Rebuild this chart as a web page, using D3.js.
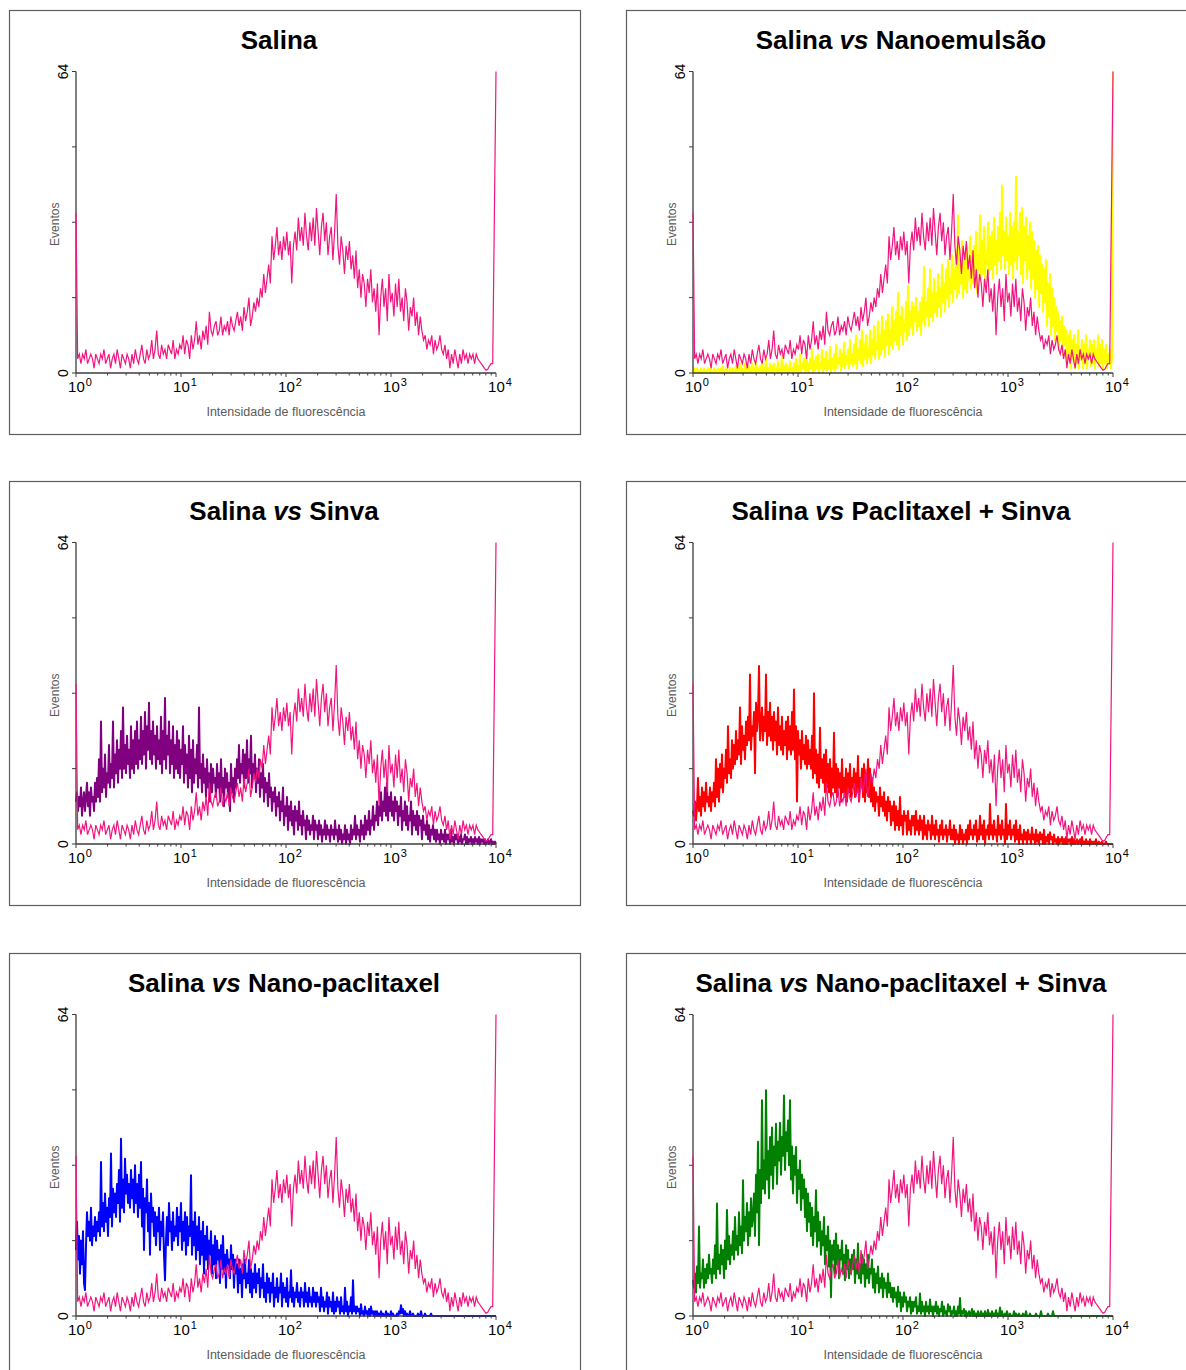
<!DOCTYPE html>
<html>
<head>
<meta charset="utf-8">
<script src="https://cdn.jsdelivr.net/npm/d3@7/dist/d3.min.js"></script>
<style>
  html, body { margin: 0; padding: 0; background: #fff; }
</style>
</head>
<body>
<script>
// Flow cytometry histograms: events per channel over a 4-decade log fluorescence axis.

// Saline control (256 channels), shared by every panel
const salina = [
  34, 3, 4, 2, 4, 3, 5, 2, 3, 4, 3, 1, 4, 3, 2, 4,
  3, 5, 2, 3, 4, 1, 3, 4, 2, 5, 3, 1, 4, 3, 2, 4,
  3, 1, 4, 2, 5, 3, 2, 4, 6, 3, 2, 5, 3, 4, 7, 3,
  5, 9, 4, 3, 6, 4, 5, 3, 6, 5, 4, 7, 3, 5, 4, 6,
  5, 8, 4, 7, 6, 3, 8, 5, 7, 11, 6, 8, 5, 9, 7, 10,
  6, 13, 9, 8, 10, 11, 8, 9, 12, 8, 10, 9, 11, 8, 12, 10,
  9, 11, 13, 10, 12, 9, 14, 11, 13, 16, 10, 12, 15, 13, 16, 14,
  18, 16, 21, 17, 20, 23, 19, 29, 24, 27, 31, 25, 28, 24, 29, 26,
  30, 25, 28, 19, 27, 30, 26, 33, 28, 31, 27, 34, 29, 26, 32, 28,
  33, 27, 35, 30, 25, 31, 34, 28, 32, 25, 29, 31, 24, 30, 38, 27,
  23, 29, 26, 21, 27, 24, 28, 22, 25, 20, 26, 18, 22, 16, 21, 19,
  14, 20, 17, 22, 15, 18, 13, 19, 8, 16, 20, 14, 18, 11, 21, 15,
  17, 12, 19, 14, 20, 13, 16, 11, 18, 15, 9, 14, 12, 16, 10, 13,
  8, 12, 9, 7, 8, 5, 7, 6, 8, 4, 7, 5, 6, 8, 5, 4,
  6, 3, 5, 1, 4, 2, 5, 3, 1, 4, 2, 5, 3, 4, 2, 4,
  3, 4, 2, 4, 3, 2.5, 2, 1.5, 1, 0.6, 0.8, 1.5, 2, 2, 33, 64
];

// Treated samples (421 channels each)
const nanoemulsao = [
  0,1,0,0,1,0,0.5,0,1,0,0,1,0,0,0.5,1,0,0,1,0,
  0,1,0,0.5,0,1,0,0,1,0,1.5,0,0,1,0,0.5,0,1,0,0,
  1,0,0,1.5,0,1,0,2,0,1,0,0,2,0,1,0,1.5,0,0,2,
  0,1,0,2.5,0,1,0,1.5,0,2,0,1,0,3,0,1,0,2,0,1.5,
  0,2,0.5,1,0,2.5,0,1,0,3.5,0,1.5,0,2,0,1,0,2.5,0.5,1,
  0,2,0,3,0.5,1.5,0,4,0,2,1,3,0,4.5,0.5,2,0,3,1,5,
  0,2.5,0.5,3.5,1,4,0,2,1,5,0,3,1,4.5,0.5,2.5,1,5.5,0,3,
  1,4,0.5,6,1,3,2,5,0.5,4,1.5,6.5,1,3.5,2,5,1,7,2,4,
  1.5,6,2,8,1,5,3,7,2,9,1.5,6,3,8,2,5,3.5,9,2,7,
  4,10,3,6,5,11,3,8,4,12,5,9,3.5,11,6,12.5,4,9,6,14,
  5,11,7,13,6,17,5,12,8,14,6,11,9,15,7,18.5,8,13,10,15,
  8,14,11,16,9,13,10,15,8,16,11,22.5,10,15,12,18,10,22,12,17,
  11,20,13,17,12,21,14,18,12,23,15,19,13,22,16,24,14,20,17,25,
  15,22,18,26,16,33.5,17,24,19,28,16,25,18,27,17,23,20,29,18,26,
  19,27,21,30,17,25,22,33.5,20,28,21,31,19,26,23,32,21,29,22,30,
  20,33,23,28,21,31,24,34,22,39.8,25,30,22,33,24,29,21,34,23,31,
  20,32,24,41.7,22,30,25,34,21,35,19,31,24,33,20,29,22,32,18,30,
  20,28,16,26,18,27,14,25,17,23,13,22,15,24,10,19,12,21,8,18,
  10,16,7,14,9,13,5,11,7,12,4,10,6,9,2,8,4,9,1,7,
  3,8,1,6,2,9,1,5,3,7,1,6,2,8,1,5,3,7,1.5,6,
  2,7,1,5,3,8,1.5,6,2,7,1,5,2,6,1,4,2,5,1,3,
  64
];

const sinva = [
  9,11,7,10,8,12,6,9,11,7,10,13,8,11,6,12,9,10,7,13,
  9,14,10,18,9,26,11,16,12,19,10,15,13,21,12,17,14,26,12,19,
  15,22,13,20,16,24,14,29,16,21,15,23,17,20,14,25,16,22,15,24,
  17,26,16,22,18,27,17,24,19,28,16,25,20,30,18,24,17,26,19,23,
  16,25,18,22,17,27,15,24,18,31,16,23,19,26,15,22,17,25,14,21,
  16,24,15,22,14,20,17,25,13,21,15,19,12,23,14,20,11,22,13,18,
  15,21,12,29,14,17,11,19,13,16,10,18,12,15,9,17,11,16,13,14,
  10,17,12,15,9,18,11,14,8,16,12,15,10,13,7,17,11,14,9,16,
  12,18,14,21,13,17,15,20,12,19,14,22,13,18,15,23,12,17,14,19,
  11,16,13,18,10,15,12,17,9,14,11,13,8,15,10,12,7,11,9,12,
  6,10,8,11,5,9,7,12,4,8,6,10,3,8,5,9,4,7,2,8,
  5,7,3,9,4,6,2,7,4,5,1,6,3,5,2,4,3,6,1,5,
  3,4,1,5,2,4,0.5,3,2,5,1,4,2,3,0.5,4,2,3,1,5,
  2,3,0.5,4,1,3,0,2,1,4,0,3,1,2,0,4,1,3,2,6,
  1,4,2,3,0.5,5,2,4,1,6,2,5,3,7,2,5,4,8,3,6,
  5,9,4,8,6,11,5,9,7,12,6,13,5,10,7,11,6,9,5,10,
  7,9,4,8,6,10,3,7,5,9,4,8,3,6,5,9,2,7,4,6,
  3,7,2,6,4,5,1,6,3,4,2,5,1,4,0.5,3,2,4,1,3,
  0.5,3,1,2,0,3,1,2,0.5,3,0,2,1,2,0,3,0.5,1.5,0,2,
  1,2,0,1.5,0.5,2,0,1,1,2,0,1.5,0,1,0.5,1.5,0,1,0,1.5,
  0.5,1,0,1.5,0,1,0.5,1,0,1,0,0.5,1,0,0.5,1,0,0.5,0,0.5,
  0
];

const paclitaxelSinva = [
  7,6,9,5,8,14,7,10,6,12,8,11,7,13,9,10,8,12,7,11,
  9,13,8,18,10,16,9,17,12,19,11,16,14,20,13,25,15,18,14,22,
  16,21,17,24,18,22,19,29,17,25,20,23,18,26,21,27,22,36,20,25,
  23,28,15,30,24,27,37.8,22,25,29,22,27,24,36,21,28,23,30,22,27,
  20,28,22,26,19,29,21,25,20,27,19,24,21,26,18,27,20,25,19,28,
  20,32.8,18,25,9,24,19,22,16,24,18,21,17,23,16,22,17,20,16,23,
  14,32,15,20,13,19,12,24.7,14,18,13,19,11,20,12,17,11,18,10,16,
  12,23.6,11,17,10,16,12,15,9,18,11,14,10,16,9,15,11,17,10,14,
  12,16,10,15,11,18.7,9,14,12,16,10,17,9,15,11,18,10,16,9,14,
  8,12,7,11,9,10,6,12,8,10,7,11,6,9,5,10,7,9,4,8,
  5,9,3,8,4,7,3,10,4,6,2,7,5,6,2,7,3,5,2,6,
  4,6,2,7,3,5,2,6,3,5,1,6,2,4,1,5,3,4,1,6,
  2,4,1,5,2,3,0.5,4,2,5,1,3,2,4,0.5,3,2,5,1,3,
  1,4,0,3,1,2,0,4,1,3,0,2,1,3,0,4,1,5,2,3,
  1,4,2,5,0.5,3,1,6,2,4,1,5,0,3,2,4,1,8.5,2,4,
  1,5,2,3,0.5,6,2,4,1,5,2,3,0,8.5,1,4,2,5,1,3,
  2,4,0.5,5,1,3,0,4,1,2,0,3,1,2.5,0,3,1,2,0,3.5,
  1,2,0,3,0.5,2,0,2.5,1,2,0,3,0,1.5,0.5,2,0,2.5,1,1.5,
  0,2,0.5,1,0,1.5,0,1,0.5,1.5,0,1,0,1.5,0,1,0.5,1,0,1.5,
  0,1,0,0.5,1,0,0.5,1,0,1.5,0,0.5,0,1,0,0.5,0,1,0,0.5,
  0,0.5,0,1,0,0,0.5,0,0,0.5,0,0,0,0.5,0,0,0,0,0,0,
  0
];

const nanoPaclitaxel = [
  14,20,12,17,9,16,11,18,7,5.5,15,22,17,20,16,23,15,19,17,21,
  16,20,18,22,17,32.7,19,24,18,26,20,23,17,25,21,34.5,19,27,22,26,
  21,28,24,31,20,37.6,23,29,22,33.4,26,30,24,28,23,31,25,29,22,32,
  24,28,21,30,23,32.7,19,27,14,25,22,29,18,24,13,26,20,23,17,22,
  15,21,18,23,14,20,17,22,13,7.6,16,21,15,24,18,20,14,22,16,19,
  17,23,15,21,18,24,14,20,16,22,13,21,15,19,17,29.9,13,20,15,22,
  12,19,14,21,11,18,13,20,9,17,12,19,10,16,13,18,9,15,11,17,
  8,16,12,14,7,15,10,17,9,13,6,14,11,12,8,15,10,13,6,12,
  9,11,5,12,7,10,4,11,8,12,6,9,7,11.9,5,10,4,9,6,11,
  5,9,7,10,4,8,6,11,4,7,3,9,5,8,3,7,5,9,2,6,
  4,8,3,6,5,9,2,7,4,6,3,8,2,5,4,9.7,3,6,2,5,
  4,7,3,5,2,6,4,5,2,7,3,5,2,6,3,4,2,6,3,5,
  2,5,3,4,1,6,2,4,1,3,2,5,0.5,4,2,3,1,5,0.5,3,
  1,4,2,3,0.5,4,1,2,0.5,6,1,3,0,2,1,4,0.5,7.6,1,2,
  0.5,2,1,1.5,0,2.5,0.5,1,0,2,0.5,1,0,1.5,0,2,0.5,1,0,1,
  0,1,0,0.5,0,1,0,0.5,0,0,1,0,0.5,0,0,1,0,0.5,0,0,
  0,0.5,0,1,0.5,2.3,0.6,1.5,0,1,0,0.5,0,0,1,0,0,0.5,0,0,
  0,0,0.5,0,0,1,0,0,0,0.5,0,0,0,0,0,0.5,0,0,0,0,
  0,0,0,0,0,0,0,0,0,0,0,0,0,0,0,0,0,0,0,0,
  0,0,0,0,0,0,0,0,0,0,0,0,0,0,0,0,0,0,0,0,
  0,0,0,0,0,0,0,0,0,0,0,0,0,0,0,0,0,0,0,0,
  0
];

const nanoPaclitaxelSinva = [
  7.6,6,9,5,10.5,7,19,6,9,8,12,6,10,7,11,8,13,9,10,7,
  12,9,15,8,23.9,10,13,9,15,11,14,8,16,10,22.5,12,17,11,15,13,
  18,12,21,14,17,13,22,15,19,13.3,28.8,16,21,18,24,15,22,17,25,19,
  21,26,17,30,22,37,15,31,24,45.8,27,33,26,47.9,29,35,25,38,30,40,
  27,36,32,40.8,28,37,33,41,30,38,34,46.8,31,39,35,41.5,32,45.8,29,36,
  26,34,30,35.9,24,31,27,33,22.5,30,25,29,21,27,18,26,20,24,17,23,
  15,21,18,26.7,14.7,22,16,20,13,18,15,21,11,17,14,19,10.5,16,4,15,
  12,16,9,17.5,11,15,8,14,12,16,9,13,7.6,15,10,14,8,12,9,13,
  10,14,7,12,9,15.4,8,11,7,13,9,12,6.2,11,8,13,7,10,9,12,
  6,10,5,9,7,10.5,5,8,6,9,4,8,6,7,4,9,5,7,4,6,
  3,6,4,5,2,6.2,3,5,1,4,2,5,3,4,1,3,2,4,0.5,3,
  1,3,2,4,0.5,2,1,4.8,0.5,3,1,2,0,3,1,2,0.5,3.5,1,2,
  0,2,1,3,0.5,2,0,1.5,1,3,0,2,0.5,1,0,2.5,1,2,0,1,
  0.5,2,0,1,0,2,0.5,3.8,0,1,0.5,1.5,0,1,0,0.5,1,0,0.5,1.5,
  0,1,0,0.5,0,1,0,0,1,0,0.5,0,1,0,0,1.3,0,0.5,0,1,
  0,0.5,0,1.2,0,0.5,0,1.8,0,1,0,0,0.5,0,1,0,0,0.5,0,0,
  0,1,0,0.5,0,0,0.5,0,0,0,0.5,0,0,1,0,0,0,0.5,0,0,
  0,0,0,0.5,0,0,0,0,1,0,0,0,0,0,0,0.5,0,0,0,0,
  1,0,0,0,0,0,0,0,0,0,0,0,0,0,0,0,0,0,0,0,
  0,0,0,0,0,0,0,0,0,0,0,0,0,0,0,0,0,0,0,0,
  0,0,0,0,0,0,0,0,0,0,0,0,0,0,0,0,0,0,0,0,
  0
];

// Panel titles, in reading order, and the treated series / colour of each
const titles = [
  "Salina",
  "Salina vs Nanoemulsão",
  "Salina vs Sinva",
  "Salina vs Paclitaxel + Sinva",
  "Salina vs Nano-paclitaxel",
  "Salina vs Nano-paclitaxel + Sinva"
];
const treated = [null, nanoemulsao, sinva, paclitaxelSinva, nanoPaclitaxel, nanoPaclitaxelSinva];
const treatedColors = [null, "#ffff00", "#800080", "#ff0000", "#0000ff", "#008000"];
const salinaColor = "#f2147f";

// Axis ticks and labels
const decades = [1, 10, 100, 1000, 10000];
const decadeExponents = ["0", "1", "2", "3", "4"];
const yTicks = [0, 16, 32, 48, 64];
const yLabelled = [0, 64];
const xTitle = "Intensidade de fluorescência";
const yTitle = "Eventos";

// ---- layout ----
const W = 1186, H = 1370;
const FONT = "'Liberation Sans', Arial, Helvetica, sans-serif";
const panelW = 571, panelH = 424;
const colX = [9, 626];
const rowY = [10, 481, 953];
const plotLeft = 67, plotTop = 61.5, plotW = 420, plotH = 301.5;

const svg = d3.select("body").append("svg")
  .attr("width", W).attr("height", H)
  .style("display", "block")
  .style("font-family", FONT);

svg.append("rect").attr("width", W).attr("height", H).attr("fill", "#fff");

const x = d3.scaleLog().domain([1, 1e4]).range([0, plotW]);
const y = d3.scaleLinear().domain([0, 64]).range([plotH, 0]);

// channel index -> fluorescence intensity (channels evenly spread over 4 decades)
const intensity = (i, n) => Math.pow(10, 4 * i / (n - 1));

function histLine(values) {
  const n = values.length;
  return d3.line()
    .x((d, i) => x(intensity(i, n)))
    .y(d => y(Math.min(d, 64)))(values);
}

titles.forEach((title, k) => {
  const col = k % 2, row = Math.floor(k / 2);
  const g = svg.append("g").attr("transform", `translate(${colX[col]},${rowY[row]})`);

  // frame
  g.append("rect")
    .attr("x", 0.5).attr("y", 0.5)
    .attr("width", panelW).attr("height", panelH)
    .attr("fill", "none").attr("stroke", "#5e5e5e").attr("stroke-width", 1.2);

  // title, with the "vs" set in italic
  const t = g.append("text")
    .attr("x", k === 0 ? 270 : 275).attr("y", 39)
    .attr("text-anchor", "middle")
    .attr("font-size", 26).attr("font-weight", "bold").attr("fill", "#000");
  const parts = title.split(" vs ");
  t.append("tspan").text(parts[0]);
  if (parts.length > 1) {
    t.append("tspan").attr("font-style", "italic").text(" vs ");
    t.append("tspan").text(parts[1]);
  }

  const p = g.append("g").attr("transform", `translate(${plotLeft},${plotTop})`);

  // treated sample histogram, under the axes
  if (treated[k]) {
    p.append("path")
      .attr("d", histLine(treated[k]))
      .attr("fill", "none")
      .attr("stroke", treatedColors[k])
      .attr("stroke-width", 2)
      .attr("stroke-linejoin", "round");
  }

  // y axis
  const axisColor = "#3c3c3c";
  p.append("line")
    .attr("x1", 0).attr("x2", 0).attr("y1", y(64)).attr("y2", y(0))
    .attr("stroke", axisColor).attr("stroke-width", 1.3);
  p.selectAll(".yt").data(yTicks).enter().append("line")
    .attr("x1", -4).attr("x2", 0)
    .attr("y1", d => y(d)).attr("y2", d => y(d))
    .attr("stroke", axisColor).attr("stroke-width", 1);
  p.selectAll(".yl").data(yLabelled).enter().append("text")
    .attr("transform", d => `translate(-8,${y(d)}) rotate(-90)`)
    .attr("text-anchor", "middle")
    .attr("font-size", 14).attr("fill", "#000")
    .text(d => d);
  p.append("text")
    .attr("transform", `translate(-17,${plotH / 2 + 2}) rotate(-90)`)
    .attr("text-anchor", "middle")
    .attr("font-size", 12).attr("fill", "#5a5a5a")
    .text(yTitle);

  // x axis
  p.append("line")
    .attr("x1", 0).attr("x2", plotW).attr("y1", plotH).attr("y2", plotH)
    .attr("stroke", axisColor).attr("stroke-width", 1.3);
  const minor = [];
  decades.slice(0, -1).forEach(d => { for (let m = 2; m <= 9; m++) minor.push(d * m); });
  p.selectAll(".xm").data(minor).enter().append("line")
    .attr("x1", d => x(d)).attr("x2", d => x(d))
    .attr("y1", plotH).attr("y2", plotH + 2.5)
    .attr("stroke", axisColor).attr("stroke-width", 1);
  p.selectAll(".xt").data(decades).enter().append("line")
    .attr("x1", d => x(d)).attr("x2", d => x(d))
    .attr("y1", plotH).attr("y2", plotH + 4)
    .attr("stroke", axisColor).attr("stroke-width", 1);
  const xl = p.selectAll(".xl").data(decades).enter().append("text")
    .attr("x", d => x(d) + 4).attr("y", plotH + 19)
    .attr("text-anchor", "middle")
    .attr("font-size", 15).attr("fill", "#000");
  xl.append("tspan").text("10");
  xl.append("tspan")
    .attr("font-size", 11).attr("dy", -6).attr("dx", 1)
    .text((d, i) => decadeExponents[i]);

  p.append("text")
    .attr("x", plotW / 2).attr("y", plotH + 43)
    .attr("text-anchor", "middle")
    .attr("font-size", 12.5).attr("fill", "#5a5a5a")
    .text(xTitle);

  // saline control histogram on top
  p.append("path")
    .attr("d", histLine(salina))
    .attr("fill", "none")
    .attr("stroke", salinaColor)
    .attr("stroke-width", 1.2);
});
</script>
</body>
</html>
